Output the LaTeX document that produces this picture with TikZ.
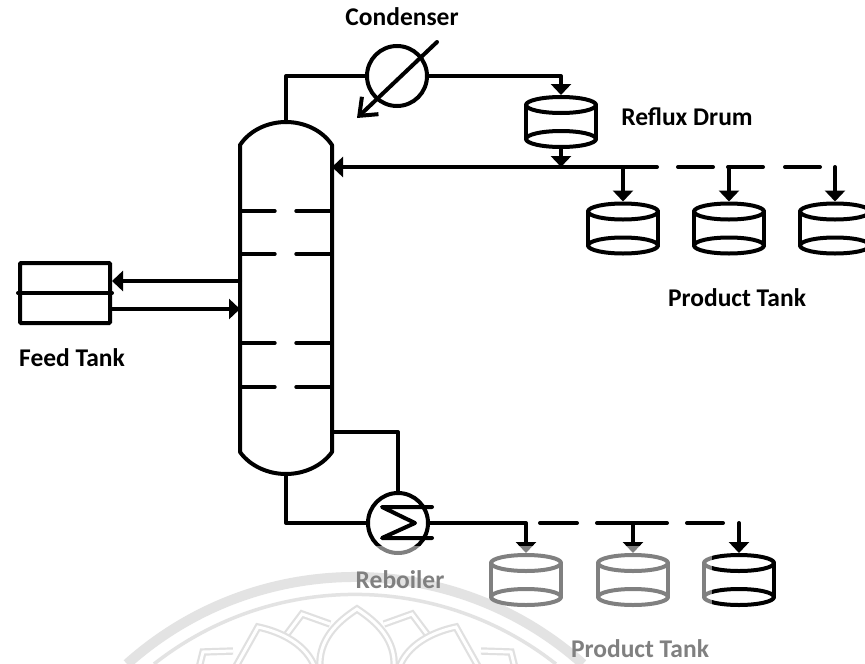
\documentclass[tikz,border=0pt]{standalone}
\usepackage{fontspec}
\setmainfont{Carlito}
\usetikzlibrary{arrows.meta}

\tikzset{
  pipe/.style={line width=4pt,line join=round,line cap=round},
  tray/.style={line width=3.4pt,line cap=round},
  flow/.style={pipe,-{Triangle[length=11pt,width=20pt]}},
  vessel/.style={draw,circle,line width=4pt,minimum size=60pt,inner sep=0pt},
  tankbox/.style={minimum width=72pt,minimum height=54pt,inner sep=0pt,outer sep=0pt},
  tag/.style={font=\fontsize{25.5}{30}\selectfont\bfseries,inner sep=0pt},
  seal/.style={line width=2.2pt,double=white,double distance=3pt,draw=black!24}
}

\newcommand{\tank}[2]{
  \node[tankbox] (#1) at (#2) {};
  \draw[pipe] ([yshift=-10pt]#1.north) ellipse (35pt and 8pt);
  \draw[pipe] ([yshift=10pt]#1.south) ellipse (35pt and 8pt);
  \draw[pipe] ([xshift=1pt,yshift=-10pt]#1.north west) -- ([xshift=1pt,yshift=10pt]#1.south west);
  \draw[pipe] ([xshift=-1pt,yshift=-10pt]#1.north east) -- ([xshift=-1pt,yshift=10pt]#1.south east);
}

\begin{document}
\begin{tikzpicture}[x=1pt,y=-1pt]
  \clip (0,0) rectangle (865,664);
  \fill[white] (0,0) rectangle (865,664);

  % watermark
  \draw[black!22,line width=10pt] (127,664) arc[start angle=228.2,end angle=311.8,radius=342];
  \draw[black!22,line width=3.5pt] (154,664) arc[start angle=231.8,end angle=308.2,radius=325];
  \foreach \s in {1,-1} {
    \begin{scope}[shift={(357,0)},xscale=\s]
      \draw[seal] (-70,634) -- (-55,614) -- (-27,624);
      \draw[seal] (-158,668) -- (-154,652) -- (-124,651);
      \draw[seal] (-122,668) -- (-99,627) .. controls (-75,632) and (-50,645) .. (-42,668);
    \end{scope}
  }
  \draw[seal] (320,668) .. controls (318,640) and (337,622) .. (357,609)
    .. controls (377,622) and (396,640) .. (394,668);

  % column
  \node[minimum width=92pt,minimum height=352pt,inner sep=0pt,outer sep=0pt] (column) at (286,298) {};
  \draw[pipe] (column.west |- 0,145) .. controls (250,130) and (268,122) .. (column.north)
    .. controls (304,122) and (322,130) .. (column.east |- 0,145)
    -- (column.east |- 0,452) .. controls (322,466) and (304,474) .. (column.south)
    .. controls (268,474) and (250,466) .. (column.west |- 0,452) -- cycle;
  \foreach \y in {211,254,343,387} {
    \draw[tray] (column.west |- 0,\y) -- +(35,0);
    \draw[tray] (column.east |- 0,\y) -- +(-36,0);
  }

  % feed
  \node[draw,line width=4pt,rounded corners=1pt,minimum width=90pt,minimum height=60pt,inner sep=0pt] (feed) at (65,293) {};
  \node[tag] (feedlabel) at (72,358) {Feed Tank};
  \draw[pipe] (feed.west) -- (feed.east);
  \draw[flow] (column.west |- 0,281) -- (feed.east |- 0,281);
  \draw[flow] (feed.east |- 0,309) -- (column.west |- 0,309);

  % top of the column
  \node[vessel] (condenser) at (397,76) {};
  \node[tag] (condenserlabel) at (402,17) {Condenser};
  \coordinate (coolin) at (437,42);
  \coordinate (coolout) at (357,118);
  \draw[pipe,-{Straight Barb[length=15pt,width=24pt]}] (coolin) -- (coolout);
  \draw[pipe] (column.north) |- (condenser.west);
  \tank{drum}{561,122}
  \node[tag] (drumlabel) at (687,117) {Reflux Drum};
  \draw[flow] (condenser.east) -| (drum.north);
  \coordinate (refluxtee) at (drum.south |- 0,167);
  \draw[flow] (drum.south) -- (refluxtee);
  \coordinate (refluxend) at (657,167);
  \draw[flow] (refluxend) -- (column.east |- 0,167);
  \foreach \a/\b in {678/713,728/763,785/820} {
    \draw[pipe] (\a,167) -- (\b,167);
  }
  \tank{topa}{623,228.5}
  \tank{topb}{729,228.5}
  \tank{topc}{835,228.5}
  \node[tag] (toplabel) at (737,298) {Product Tank};
  \draw[flow] (topa.north |- refluxtee) -- (topa.north);
  \draw[flow] (topb.north |- refluxtee) -- (topb.north);
  \draw[flow] (topc.north |- refluxtee) -- (topc.north);

  % bottom of the column
  \node[vessel] (reboiler) at (398,523) {};
  \coordinate (coila) at (432,507);
  \coordinate (coilb) at (432,538);
  \draw[pipe] (coila) -- (382,507) -- (415,523) -- (382,538) -- (coilb);
  \draw[pipe] (column.south) |- (reboiler.west);
  \draw[pipe] (column.east |- 0,432) -| (reboiler.north);
  \node[tag] (reboilerlabel) at (400,580) {Reboiler};
  \tank{bota}{526,580}
  \tank{botb}{633,580}
  \tank{botc}{739,580}
  \node[tag] (botlabel) at (640,649) {Product Tank};
  \draw[flow] (reboiler.east) -| (bota.north);
  \foreach \a/\b in {540/577,597/667,687/723} {
    \draw[pipe] (\a,523) -- (\b,523);
  }
  \draw[flow] (botb.north |- reboiler.east) -- (botb.north);
  \draw[flow] (botc.north |- reboiler.east) -- (botc.north);

  % washed out part
  \fill[white,opacity=.5] (0,546) rectangle (712,664);
\end{tikzpicture}
\end{document}
